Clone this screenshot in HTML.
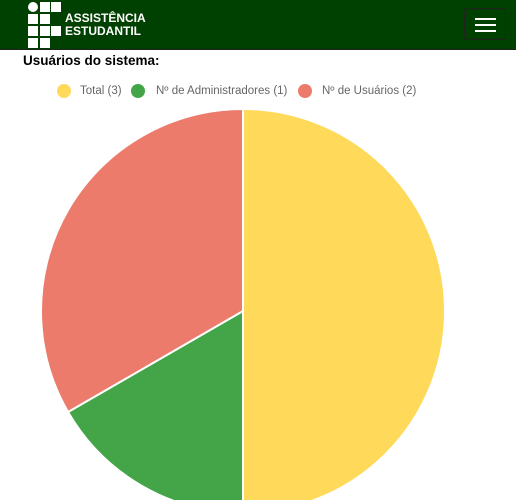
<!DOCTYPE html>
<html><head><meta charset="utf-8">
<style>
body{margin:0;width:516px;height:500px;overflow:hidden;background:#fff;font-family:"Liberation Sans",Arial,sans-serif;position:relative}
.hdr{position:absolute;left:0;top:0;width:516px;height:49px;background:#004000;border-bottom:1px solid #222}
.sq{position:absolute;background:#fff;width:10px;height:10px}
.brand{position:absolute;left:65px;top:12px;color:#fff;font-weight:bold;font-size:12px;line-height:13px}
.burger{position:absolute;left:464px;top:8px;width:42px;height:32px;border:1px solid #222;border-radius:3px;box-sizing:border-box}
.burger i{position:absolute;left:10px;width:21px;height:2px;background:#fff}
.title{position:absolute;left:23px;top:53px;font-size:13.5px;font-weight:bold;color:#000}
.leg{position:absolute;top:85px;font-size:11.5px;color:#666;white-space:nowrap}
.dot{position:absolute;width:14px;height:14px;border-radius:50%}
</style></head><body>
<div class="hdr">
  <div>
    <div class="sq" style="left:28px;top:2px;border-radius:50%"></div>
    <div class="sq" style="left:40px;top:2px"></div>
    <div class="sq" style="left:51px;top:2px"></div>
    <div class="sq" style="left:28px;top:14px"></div>
    <div class="sq" style="left:40px;top:14px"></div>
    <div class="sq" style="left:28px;top:26px"></div>
    <div class="sq" style="left:40px;top:26px"></div>
    <div class="sq" style="left:51px;top:26px"></div>
    <div class="sq" style="left:28px;top:38px"></div>
    <div class="sq" style="left:40px;top:38px"></div>
    <div class="brand">ASSISTÊNCIA<br>ESTUDANTIL</div>
  </div>
  <div class="burger"><i style="top:9px"></i><i style="top:15px"></i><i style="top:21px"></i></div>
</div>
<div class="title">Usuários do sistema:</div>
<div>
  <div class="dot" style="left:57px;top:84px;background:#FFD95A"></div><div class="leg" style="left:80px">Total (3)</div>
  <div class="dot" style="left:131px;top:84px;background:#43A547"></div><div class="leg" style="left:156px">Nº de Administradores (1)</div>
  <div class="dot" style="left:298px;top:84px;background:#EC7B6B"></div><div class="leg" style="left:322px">Nº de Usuários (2)</div>
</div>
<svg id="pie" width="516" height="500" style="position:absolute;left:0;top:0"></svg>
<script>
const categories=["Total","Nº de Administradores","Nº de Usuários"];
const values=[3,1,2];
const colors=["#FFD95A","#43A547","#EC7B6B"];
const cx=243,cy=311,r=202;
const svg=document.getElementById('pie');
const total=values.reduce((a,b)=>a+b,0);
let a0=0;
values.forEach((v,i)=>{
  const a1=a0+v/total*2*Math.PI;
  const p=(a)=>[cx+r*Math.sin(a),cy-r*Math.cos(a)];
  const [x0,y0]=p(a0),[x1,y1]=p(a1);
  const large=(a1-a0)>Math.PI?1:0;
  const path=document.createElementNS('http://www.w3.org/2000/svg','path');
  path.setAttribute('d',`M${cx},${cy} L${x0},${y0} A${r},${r} 0 ${large} 1 ${x1},${y1} Z`);
  path.setAttribute('fill',colors[i]);
  path.setAttribute('stroke','#fff');
  path.setAttribute('stroke-width','2');
  
  
  svg.appendChild(path);
  a0=a1;
});
</script>
</body></html>
